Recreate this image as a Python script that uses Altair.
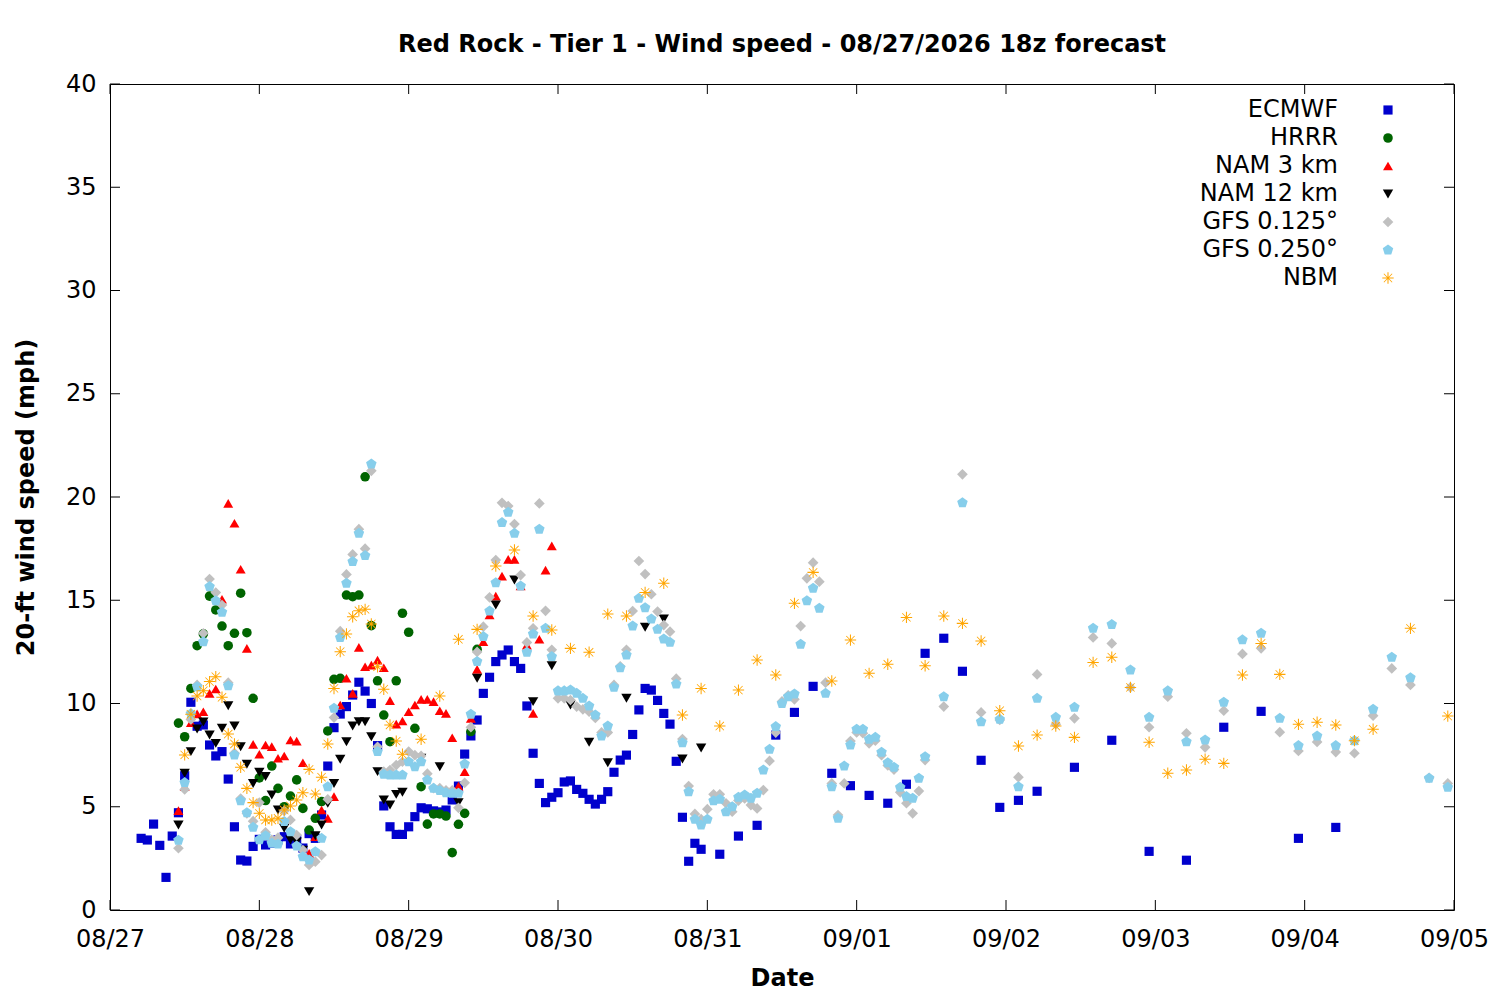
import altair as alt
import pandas as pd

# ---------------- data ----------------
SERIES = ["ECMWF", "HRRR", "NAM 3 km", "NAM 12 km", "GFS 0.125°", "GFS 0.250°", "NBM"]
COLORS = ["#0000cd", "#006400", "#ff0000", "#000000", "#c0c0c0", "#87ceeb", "#ffa500"]

X_TICK_HOURS = [0, 24, 48, 72, 96, 120, 144, 168, 192, 216]
X_TICK_LABELS = ["08/27", "08/28", "08/29", "08/30", "08/31", "09/01", "09/02", "09/03", "09/04", "09/05"]
Y_TICKS = [0, 5, 10, 15, 20, 25, 30, 35, 40]

# hours since 08/27 00
ECMWF_H = list(range(5, 96)) + list(range(98, 150, 3)) + list(range(155, 198, 6))
ECMWF_V = [
    3.47, 3.39, 4.16, 3.13, 1.58, 3.58, 4.71, 6.5, 10.06, 8.9,
    8.96, 7.99, 7.46, 7.67, 6.34, 4.03, 2.42, 2.37, 3.08, 3.42,
    3.15, 3.23, 3.4, 3.55, 3.2, 3.4, 3.0, 3.7, 3.47, 4.6,
    6.97, 8.83, 9.49, 9.85, 10.41, 11.03, 10.6, 10.0, 7.96, 5.04,
    4.03, 3.66, 3.66, 4.03, 4.52, 4.95, 4.9, 4.8, 4.75, 4.84,
    5.33, 6.0, 7.55, 8.43, 9.2, 10.49, 11.27, 12.03, 12.35, 12.59,
    12.03, 11.7, 9.88, 7.59, 6.13, 5.2, 5.46, 5.68, 6.2, 6.25,
    5.84, 5.65, 5.36, 5.13, 5.36, 5.73, 6.67, 7.26, 7.5, 8.5,
    9.69, 10.73, 10.65, 10.15, 9.52, 9.0, 7.2, 4.49, 2.36, 3.23,
    2.94,
    2.7, 3.58, 4.1, 8.47, 9.57, 10.83, 6.62, 6.02, 5.55, 5.17,
    6.09, 12.43, 13.16, 11.56, 7.25, 4.97, 5.31, 5.75,
    6.91, 8.22, 2.84, 2.41, 8.85, 9.62, 3.47, 4.0,
]

HRRR_H = list(range(11, 60))
HRRR_V = [
    9.05, 8.39, 10.73, 12.8, 13.37, 15.2, 14.53, 13.75, 12.8, 13.4,
    15.34, 13.43, 10.25, 6.4, 5.3, 6.97, 5.89, 5.0, 5.52, 6.3,
    4.92, 3.87, 4.44, 5.25, 8.67, 11.17, 11.22, 15.25, 15.17, 15.25,
    20.98, 13.77, 11.1, 9.44, 8.15, 11.1, 14.37, 13.45, 8.8, 5.97,
    4.16, 4.65, 4.65, 4.55, 2.78, 4.15, 4.68, 8.64, 12.62,
]

NAM3_H = list(range(11, 72))
NAM3_V = [
    4.81, 5.97, 9.07, 9.5, 9.6, 10.49, 10.7, 15.05, 19.69, 18.73,
    16.5, 12.67, 8.02, 7.54, 7.99, 7.91, 7.35, 7.46, 8.23, 8.18,
    7.13, 2.74, 3.55, 4.84, 4.44, 5.49, 9.93, 11.22, 10.49, 12.72,
    11.78, 11.86, 12.1, 11.73, 10.14, 9.0, 9.15, 9.6, 9.93, 10.2,
    10.2, 10.09, 9.65, 9.52, 8.34, 6.0, 6.7, 9.28, 11.65, 12.99,
    14.29, 15.2, 16.17, 16.98, 16.98, 15.69, 12.83, 9.52, 13.11, 16.46,
    17.63,
]

NAM12_H = list(range(11, 48)) + list(range(50, 96, 3))
NAM12_V = [
    4.12, 6.62, 7.67, 8.77, 9.1, 8.47, 8.07, 8.8, 9.89, 8.91,
    7.91, 7.06, 6.13, 6.67, 6.46, 5.57, 4.84, 3.96, 3.39, 3.3,
    2.9, 0.89, 3.6, 4.12, 5.17, 6.13, 7.3, 8.15, 8.91, 9.12,
    9.12, 8.39, 6.7, 5.33, 5.08, 5.6, 5.7,
    7.35, 6.94, 5.2, 11.22, 14.77, 15.98, 10.09, 11.83, 9.93, 8.12,
    7.13, 10.25, 13.69, 14.09, 7.31, 7.85,
]

GFS_H = list(range(11, 132)) + list(range(134, 216, 3))
GFS125_V = [
    2.99, 5.84, 9.23, 10.9, 13.4, 16.03, 15.37, 14.77, 11.01, 7.6,
    5.4, 4.68, 4.3, 5.2, 3.76, 3.4, 3.5, 4.8, 4.36, 3.63,
    2.9, 2.18, 2.34, 2.66, 5.36, 9.32, 13.5, 16.25, 17.22, 18.44,
    17.5, 21.27, 7.9, 6.7, 6.78, 7.02, 7.18, 7.67, 7.5, 7.46,
    6.6, 5.9, 5.9, 5.8, 5.8, 4.95, 6.16, 8.85, 12.5, 13.72,
    15.14, 16.95, 19.72, 19.56, 18.69, 16.22, 12.96, 13.64, 19.69, 14.49,
    12.6, 10.25, 10.25, 10.17, 9.85, 9.72, 9.6, 9.3, 8.6, 8.6,
    10.9, 11.8, 12.6, 14.48, 16.9, 16.27, 15.29, 14.45, 13.8, 13.48,
    11.2, 8.28, 6.0, 4.65, 4.4, 4.88, 5.6, 5.6, 5.17, 4.76,
    5.3, 5.4, 5.08, 4.92, 5.81, 7.22, 8.59, 10.1, 10.4, 10.2,
    13.75, 16.06, 16.82, 15.9, 11.01, 6.13, 4.6, 6.13, 8.18, 8.6,
    8.56, 8.07, 8.2, 7.5, 7.0, 6.8, 5.7, 5.17, 4.68, 5.76,
    7.26,
    9.85, 21.1, 9.57, 9.2, 6.43, 11.41, 9.0, 9.28, 13.2, 12.91,
    10.78, 8.85, 10.33, 8.56, 7.88, 9.65, 12.4, 12.67, 8.61, 7.7,
    8.14, 7.65, 7.59, 9.41, 11.7, 10.9, 6.4, 6.13,
]
GFS250_V = [
    3.38, 6.17, 9.5, 10.81, 12.99, 15.66, 14.98, 14.42, 10.86, 7.51,
    5.29, 4.71, 4.0, 3.4, 3.6, 3.23, 3.2, 4.28, 3.79, 3.1,
    2.58, 2.42, 2.82, 3.47, 5.97, 9.77, 13.19, 15.82, 16.87, 18.24,
    17.16, 21.6, 7.67, 6.57, 6.54, 6.54, 6.54, 7.18, 6.94, 7.18,
    6.3, 5.89, 5.78, 5.68, 5.65, 5.65, 7.07, 9.48, 12.03, 13.24,
    14.48, 15.85, 18.76, 19.26, 18.24, 15.69, 12.48, 13.37, 18.44, 13.64,
    12.27, 10.61, 10.61, 10.65, 10.49, 10.25, 9.88, 9.44, 8.43, 8.91,
    10.78, 11.73, 12.35, 13.75, 15.09, 14.64, 14.09, 13.59, 13.12, 12.96,
    10.94, 8.1, 5.73, 4.39, 4.12, 4.39, 5.29, 5.36, 4.76, 5.0,
    5.46, 5.57, 5.41, 5.65, 6.78, 7.78, 8.88, 10.0, 10.33, 10.46,
    12.87, 14.98, 15.58, 14.61, 10.49, 5.97, 4.44, 6.97, 7.99, 8.75,
    8.75, 8.27, 8.36, 7.64, 7.13, 6.91, 5.94, 5.49, 5.41, 6.38,
    7.42,
    10.33, 19.72, 9.12, 9.23, 5.97, 10.25, 9.33, 9.82, 13.64, 13.83,
    11.62, 9.33, 10.61, 8.15, 8.23, 10.06, 13.08, 13.4, 9.28, 7.96,
    8.43, 7.96, 8.2, 9.72, 12.24, 11.25, 6.38, 5.94,
]

NBM_H = list(range(12, 48)) + list(range(50, 204, 3)) + [209, 215]
NBM_V = [
    7.51, 9.48, 10.36, 10.62, 11.06, 11.3, 10.3, 8.52, 8.04, 6.91,
    5.89, 5.2, 4.68, 4.36, 4.36, 4.44, 4.84, 5.04, 5.33, 5.68,
    6.81, 5.62, 6.43, 8.04, 10.73, 12.51, 13.37, 14.2, 14.49, 14.56,
    13.85, 11.78, 10.69, 8.96, 8.18, 7.54,
    8.27, 10.36, 13.11, 13.59, 16.66, 17.43, 14.24, 13.56, 12.67, 12.48,
    14.33, 14.24, 15.38, 15.82, 9.44, 10.73, 8.91, 10.65, 12.11, 11.38,
    14.85, 16.35, 11.09, 13.07, 11.46, 11.9, 14.17, 11.83, 14.24, 13.88,
    13.03, 9.65, 7.94, 8.47, 8.91, 8.36, 11.99, 12.24, 10.78, 8.12,
    6.62, 6.78, 7.3, 7.1, 11.38, 12.91, 11.41, 8.99, 9.09, 8.96,
    8.2, 8.75,
    13.64, 9.39,
]

SERIES_DATA = [
    (ECMWF_H, ECMWF_V), (HRRR_H, HRRR_V), (NAM3_H, NAM3_V), (NAM12_H, NAM12_V),
    (GFS_H, GFS125_V), (GFS_H, GFS250_V), (NBM_H, NBM_V),
]

rows = []
for k, (name, (hs, vs)) in enumerate(zip(SERIES, SERIES_DATA)):
    assert len(hs) == len(vs), (name, len(hs), len(vs))
    for h, v in zip(hs, vs):
        rows.append({"hour": h, "speed": v, "series": name, "k": k})
df = pd.DataFrame(rows)

# ---------------- style ----------------
FONT = "DejaVu Sans"
FS = 24
W, H = 1344, 826

PENTAGON = "M0,-1L0.951,-0.309L0.588,0.809L-0.588,0.809L-0.951,-0.309Z"
ASTERISK = ("M-1,-0.09H1V0.09H-1Z M-0.09,-1H0.09V1H-0.09Z "
            "M-0.78,-0.68L-0.68,-0.78L0.78,0.68L0.68,0.78Z "
            "M0.78,-0.68L-0.68,0.78L-0.78,0.68L0.68,-0.78Z")
SHAPES = ["square", "circle", "triangle-up", "triangle-down", "diamond", PENTAGON, ASTERISK]
SIZES = [84, 130, 156, 156, 120, 145, 165]

color_scale = alt.Scale(domain=SERIES, range=COLORS)
shape_scale = alt.Scale(domain=SERIES, range=SHAPES)
size_scale = alt.Scale(domain=SERIES, range=SIZES)
xscale = alt.Scale(domain=[0, 216], nice=False, zero=False)
yscale = alt.Scale(domain=[0, 40], nice=False, zero=True)

label_expr = "[" + ",".join("'%s'" % s for s in X_TICK_LABELS) + "][round(datum.value / 24)]"

points = alt.Chart(df).mark_point(filled=True, opacity=1, strokeWidth=0).encode(
    x=alt.X("hour:Q", scale=xscale, axis=alt.Axis(
        values=X_TICK_HOURS, labelExpr=label_expr, title="Date", grid=False,
        ticks=False, tickSize=0, domain=False, labelFlush=False, labelOverlap=False,
        labelFont=FONT, labelFontSize=FS, labelColor="black", labelPadding=17,
        titleFont=FONT, titleFontSize=FS, titleFontWeight="bold", titleColor="black",
        titlePadding=15)),
    y=alt.Y("speed:Q", scale=yscale, axis=alt.Axis(
        values=Y_TICKS, title="20-ft wind speed (mph)", grid=False,
        ticks=False, tickSize=0, domain=False, labelOverlap=False,
        labelFont=FONT, labelFontSize=FS, labelColor="black", labelPadding=14,
        titleFont=FONT, titleFontSize=FS, titleFontWeight="bold", titleColor="black",
        titlePadding=27)),
    color=alt.Color("series:N", scale=color_scale, legend=None),
    shape=alt.Shape("series:N", scale=shape_scale, legend=None),
    size=alt.Size("series:N", scale=size_scale, legend=None),
    order=alt.Order("k:Q"),
)

# tick tables use the same field names so the shared axes merge with the main layer
ydf = pd.DataFrame({"speed": Y_TICKS})
xdf = pd.DataFrame({"hour": X_TICK_HOURS})
TL = 10
tick_left = alt.Chart(ydf).mark_rule(color="black", strokeWidth=1).encode(
    y=alt.Y("speed:Q", scale=yscale), x=alt.value(0), x2=alt.value(TL))
tick_right = alt.Chart(ydf).mark_rule(color="black", strokeWidth=1).encode(
    y=alt.Y("speed:Q", scale=yscale), x=alt.value(W - TL), x2=alt.value(W))
tick_bottom = alt.Chart(xdf).mark_rule(color="black", strokeWidth=1).encode(
    x=alt.X("hour:Q", scale=xscale), y=alt.value(H - TL), y2=alt.value(H))
tick_top = alt.Chart(xdf).mark_rule(color="black", strokeWidth=1).encode(
    x=alt.X("hour:Q", scale=xscale), y=alt.value(0), y2=alt.value(TL))

# manual legend (gnuplot style: text then symbol)
legend_layers = []
for i, name in enumerate(SERIES):
    ldf = pd.DataFrame({"series": [name]})
    ypos = 26 + 28 * i
    legend_layers.append(
        alt.Chart(ldf).mark_text(align="right", baseline="middle", font=FONT,
                                 fontSize=FS, color="black").encode(
            x=alt.value(1228), y=alt.value(ypos), text="series:N"))
    legend_layers.append(
        alt.Chart(ldf).mark_point(filled=True, opacity=1, strokeWidth=0).encode(
            x=alt.value(1278), y=alt.value(ypos),
            color=alt.Color("series:N", scale=color_scale, legend=None),
            shape=alt.Shape("series:N", scale=shape_scale, legend=None),
            size=alt.Size("series:N", scale=size_scale, legend=None)))

chart = alt.layer(points, tick_left, tick_right, tick_bottom, tick_top, *legend_layers).properties(
    width=W, height=H,
    title=alt.TitleParams("Red Rock - Tier 1 - Wind speed - 08/27/2026 18z forecast",
                          font=FONT, fontSize=FS, fontWeight="bold", color="black",
                          anchor="middle", offset=15),
    padding={"left": 102, "top": 76, "right": 36, "bottom": 82},
    autosize=alt.AutoSizeParams(type="none"),
    background="white",
).configure_view(stroke="black", strokeWidth=1)

chart.save("out.html", embed_options={"renderer": "svg", "actions": False})
